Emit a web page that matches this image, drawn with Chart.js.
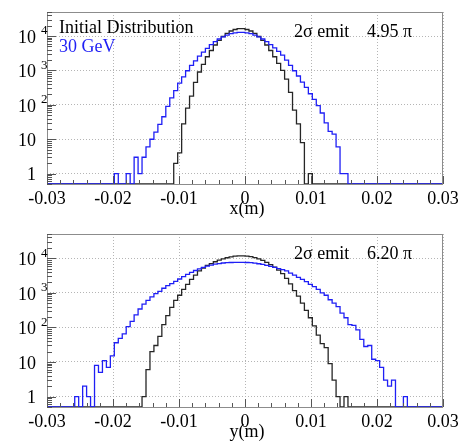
<!DOCTYPE html>
<html>
<head>
<meta charset="utf-8">
<script src="https://cdn.jsdelivr.net/npm/chart.js@4.4.1/dist/chart.umd.min.js"></script>
<style>
  html, body { margin: 0; padding: 0; background: #fff; }
  #wrap { position: relative; width: 459px; height: 441px; }
  canvas { position: absolute; left: 0; }
  #chart-x { top: 0; }
  #chart-y { top: 220px; }
</style>
</head>
<body>
<div id="wrap">
  <canvas id="chart-x" width="459" height="220"></canvas>
  <canvas id="chart-y" width="459" height="221"></canvas>
</div>
<script>
// binning: 100 bins of 0.0006 m between -0.03 and 0.03
const X_LOW = -0.03;
const X_HIGH = 0.03;
const BIN_W = 0.0006;
const Y_MIN = 0.5;
const Y_MAX = 50000;

const xTicks = [-0.03, -0.02, -0.01, 0, 0.01, 0.02, 0.03];
const xTickLabels = ['-0.03', '-0.02', '-0.01', '0', '0.01', '0.02', '0.03'];
const yTicks = [1, 10, 100, 1000, 10000];
const yTickBase = ['1', '10', '10', '10', '10'];
const yTickExp = ['', '', '2', '3', '4'];

// x distribution, initial (black)
const xInitial = [
  0, 0, 0, 0, 0, 0, 0, 0, 0, 0,
  0, 0, 0, 0, 0, 0, 0, 0, 0, 0,
  0, 0, 0, 0, 0, 0, 0, 0, 0, 0,
  0, 0, 0, 2, 4, 28, 80, 180, 450, 900,
  1500, 2500, 3800, 5500, 7500, 9700, 12000, 14000, 15500, 16400,
  16400, 15500, 14000, 12000, 9700, 7500, 5500, 3800, 2500, 1600,
  1000, 560, 230, 70, 28, 8, 0, 1, 0, 0,
  0, 0, 0, 0, 0, 0, 0, 0, 0, 0,
  0, 0, 0, 0, 0, 0, 0, 0, 0, 0,
  0, 0, 0, 0, 0, 0, 0, 0, 0, 0
];

// x distribution, 30 GeV (blue)
const x30GeV = [
  0, 0, 0, 0, 0, 0, 0, 0, 0, 0,
  0, 0, 0, 0, 0, 0, 0, 0, 1, 0,
  0, 1, 0, 3, 1, 3, 6, 10, 16, 27,
  45, 90, 160, 260, 430, 650, 980, 1400, 1900, 2600,
  3400, 4400, 5600, 6900, 8200, 9500, 10700, 11700, 12400, 12800,
  12800, 12400, 11700, 10700, 9500, 8200, 6900, 5600, 4500, 3600,
  2800, 2000, 1400, 980, 690, 460, 320, 210, 145, 95,
  58, 30, 17, 14, 6, 1, 1, 0, 0, 0,
  0, 0, 0, 0, 0, 0, 0, 0, 0, 0,
  0, 0, 0, 0, 0, 0, 0, 0, 0, 0
];

// y distribution, initial (black)
const yInitial = [
  0, 0, 0, 0, 0, 0, 0, 0, 0, 0,
  0, 0, 0, 0, 0, 0, 0, 0, 0, 0,
  0, 0, 0, 0, 0, 1, 6, 20, 30, 55,
  120, 220, 380, 600, 850, 1250, 1750, 2450, 3250, 4300,
  5200, 6200, 7000, 7900, 8800, 9600, 10300, 10900, 11400, 11700,
  11700, 11500, 11100, 10400, 9600, 8600, 7600, 6500, 5500, 4500,
  3600, 2600, 1800, 1150, 800, 500, 310, 190, 110, 60,
  34, 26, 9, 3, 1, 0, 1, 0, 0, 0,
  0, 0, 0, 0, 0, 0, 0, 0, 0, 0,
  0, 0, 0, 0, 0, 0, 0, 0, 0, 0
];

// y distribution, 30 GeV (blue)
const y30GeV = [
  0, 0, 0, 0, 0, 0, 0, 0, 1, 0,
  2, 1, 0, 8, 5, 11, 7, 15, 36, 48,
  65, 105, 150, 230, 340, 470, 600, 760, 950, 1100,
  1350, 1600, 1850, 2150, 2500, 2950, 3400, 3900, 4400, 4900,
  5400, 5900, 6300, 6700, 7000, 7250, 7400, 7500, 7550, 7550,
  7550, 7500, 7400, 7200, 6900, 6600, 6200, 5800, 5400, 5000,
  4700, 4300, 3700, 3250, 2800, 2450, 2100, 1750, 1500, 1250,
  1000, 850, 630, 500, 400, 260, 190, 120, 115, 85,
  45, 28, 30, 12, 11, 7, 3, 2, 3, 0,
  0, 1, 0, 0, 0, 0, 0, 0, 0, 0
];

const SERIF = '"Liberation Serif", "DejaVu Serif", serif';
const BLACK_LINE = '#262626';
const BLUE_LINE = '#1f1ff5';

// turn bin contents into step points (empty bins sit on the frame bottom)
function toSteps(counts) {
  const pts = counts.map((c, i) => ({ x: X_LOW + i * BIN_W, y: c > 0 ? c : Y_MIN }));
  pts.push({ x: X_HIGH, y: pts[pts.length - 1].y });
  return pts;
}

const rootStyle = {
  id: 'rootStyle',
  afterDraw(chart, args, opts) {
    const ctx = chart.ctx;
    const area = chart.chartArea;
    const xs = chart.scales.x;
    const ys = chart.scales.y;
    ctx.save();

    // frame
    ctx.strokeStyle = '#8c8c8c';
    ctx.lineWidth = 1;
    ctx.strokeRect(area.left + 0.5, area.top + 0.5, area.right - area.left - 1, area.bottom - area.top);

    // tick marks
    ctx.strokeStyle = '#555';
    ctx.beginPath();
    for (let k = 0; k <= 30; k++) {
      const px = Math.round(xs.getPixelForValue(X_LOW + k * 0.002)) + 0.5;
      const len = k % 5 === 0 ? 8 : 4;
      ctx.moveTo(px, area.bottom);
      ctx.lineTo(px, area.bottom - len);
    }
    for (let d = -1; d <= 4; d++) {
      for (let m = 1; m <= 9; m++) {
        const v = m * Math.pow(10, d);
        if (v < Y_MIN || v > Y_MAX) continue;
        const py = Math.round(ys.getPixelForValue(v)) + 0.5;
        const len = m === 1 ? 9 : 5;
        ctx.moveTo(area.left, py);
        ctx.lineTo(area.left + len, py);
      }
    }
    ctx.stroke();

    // y labels with exponents
    ctx.fillStyle = '#000';
    yTicks.forEach((v, i) => {
      const py = ys.getPixelForValue(v);
      ctx.font = '18px ' + SERIF;
      ctx.textAlign = 'right';
      ctx.textBaseline = 'middle';
      ctx.fillText(yTickBase[i], 36, py + 2);
      if (yTickExp[i]) {
        ctx.font = '13px ' + SERIF;
        ctx.textAlign = 'left';
        ctx.fillText(yTickExp[i], 41, py - 5);
      }
    });

    // axis title
    ctx.font = '18px ' + SERIF;
    ctx.textAlign = 'center';
    ctx.textBaseline = 'alphabetic';
    ctx.fillText(opts.axisTitle, (area.left + area.right) / 2 + 2, area.bottom + 30);

    // emittance note
    ctx.textAlign = 'left';
    ctx.font = '18px ' + SERIF;
    ctx.fillText('2\u03c3 emit', 294, area.top + 25);
    ctx.fillText(opts.emit + ' \u03c0', 367, area.top + 25);

    // legend text (top panel only)
    if (opts.legend) {
      ctx.fillStyle = '#000';
      ctx.fillText('Initial Distribution', 59, area.top + 21);
      ctx.fillStyle = BLUE_LINE;
      ctx.fillText('30 GeV', 59, area.top + 40);
    }
    ctx.restore();
  }
};

function makeChart(canvasId, initial, after, axisTitle, emit, legend, padTop) {
  const ctx = document.getElementById(canvasId).getContext('2d');
  return new Chart(ctx, {
    type: 'line',
    data: {
      datasets: [
        {
          label: '30 GeV',
          data: toSteps(after),
          borderColor: BLUE_LINE,
          borderWidth: 1.3,
          stepped: 'after',
          pointRadius: 0,
          fill: false
        },
        {
          label: 'Initial Distribution',
          data: toSteps(initial),
          borderColor: BLACK_LINE,
          borderWidth: 1.3,
          stepped: 'after',
          pointRadius: 0,
          fill: false
        }
      ]
    },
    options: {
      responsive: false,
      animation: false,
      devicePixelRatio: 1,
      layout: { padding: { top: padTop, right: 16, left: 0, bottom: 0 } },
      plugins: {
        legend: { display: false },
        tooltip: { enabled: false },
        rootStyle: { axisTitle, emit, legend }
      },
      scales: {
        x: {
          type: 'linear',
          min: X_LOW,
          max: X_HIGH,
          afterBuildTicks: (scale) => { scale.ticks = xTicks.map(v => ({ value: v })); },
          afterFit: (scale) => {
            scale.height = padTop === 12 ? 36 : 34;
            scale.paddingLeft = 0;
            scale.paddingRight = 0;
          },
          grid: { color: '#b5b5b5', lineWidth: 1, drawTicks: false },
          border: { display: false, dash: [1, 2] },
          ticks: {
            autoSkip: false,
            maxRotation: 0,
            padding: 4,
            color: '#000',
            font: { family: SERIF, size: 18 },
            callback: (value, index) => xTickLabels[index]
          }
        },
        y: {
          type: 'logarithmic',
          min: Y_MIN,
          max: Y_MAX,
          afterBuildTicks: (scale) => { scale.ticks = yTicks.map(v => ({ value: v })); },
          afterFit: (scale) => { scale.width = 47; },
          grid: { color: '#b5b5b5', lineWidth: 1, drawTicks: false },
          border: { display: false, dash: [1, 2] },
          ticks: { display: false }
        }
      }
    },
    plugins: [rootStyle]
  });
}

makeChart('chart-x', xInitial, x30GeV, 'x(m)', '4.95', true, 12);
makeChart('chart-y', yInitial, y30GeV, 'y(m)', '6.20', false, 14);
</script>
</body>
</html>
